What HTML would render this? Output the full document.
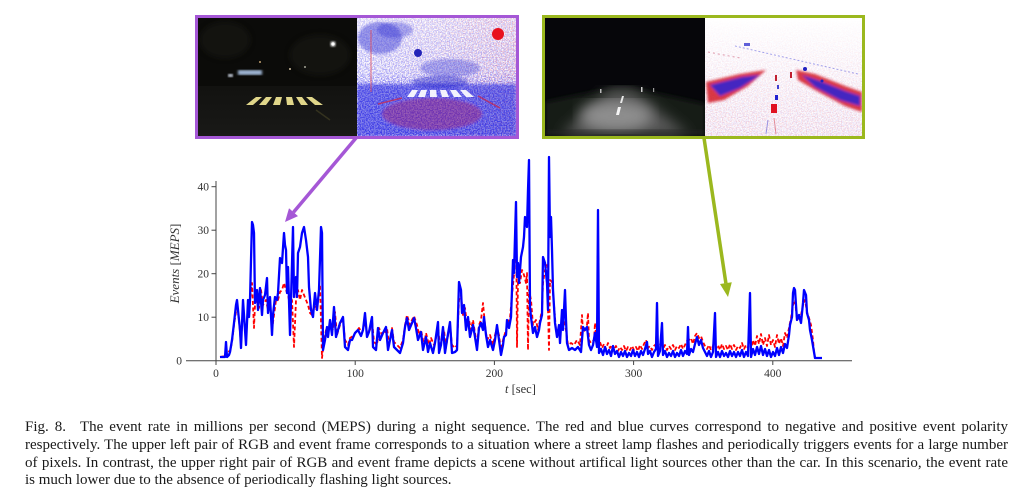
<!DOCTYPE html>
<html><head><meta charset="utf-8">
<style>
html,body{margin:0;padding:0;background:#fff;}
body{width:1024px;height:499px;position:relative;overflow:hidden;}
svg{position:absolute;left:0;top:0;}
.cap{position:absolute;left:25px;top:419px;width:983px;font-family:"Liberation Serif",serif;font-size:15px;line-height:17.8px;color:#1a1a1a;}
.cap div{white-space:nowrap;text-align:justify;text-align-last:justify;}
.cap div.last{text-align-last:left;}
</style></head><body>
<svg width="1024" height="499" viewBox="0 0 1024 499" xmlns="http://www.w3.org/2000/svg">
<defs>
  <filter id="bspk" x="0" y="0" width="1" height="1">
    <feTurbulence type="fractalNoise" baseFrequency="0.75" numOctaves="2" seed="4" result="t"/>
    <feColorMatrix in="t" type="matrix" values="0 0 0 0 0.08  0 0 0 0 0.08  0 0 0 0 0.92  4 0 0 0 -1.5" result="b"/>
    <feComposite in="b" in2="SourceGraphic" operator="in"/>
  </filter>
  <filter id="rspk" x="0" y="0" width="1" height="1">
    <feTurbulence type="fractalNoise" baseFrequency="0.8" numOctaves="2" seed="11" result="t"/>
    <feColorMatrix in="t" type="matrix" values="0 0 0 0 0.92  0 0 0 0 0.1  0 0 0 0 0.12  4 0 0 0 -1.7" result="b"/>
    <feComposite in="b" in2="SourceGraphic" operator="in"/>
  </filter>
  <filter id="blur1"><feGaussianBlur stdDeviation="1.2"/></filter>
  <filter id="blur2"><feGaussianBlur stdDeviation="3"/></filter>
  <filter id="blur4"><feGaussianBlur stdDeviation="7"/></filter>
  <clipPath id="cpl"><rect x="198" y="18" width="159" height="118"/></clipPath>
  <clipPath id="cpr"><rect x="357" y="18" width="159" height="118"/></clipPath>
  <clipPath id="cgl"><rect x="545" y="18" width="160" height="118"/></clipPath>
  <clipPath id="cgr"><rect x="705" y="18" width="157" height="118"/></clipPath>
  <linearGradient id="pbd" x1="0" y1="0" x2="0" y2="1">
    <stop offset="0" stop-color="#000" stop-opacity="0.3"/>
    <stop offset="0.45" stop-color="#000" stop-opacity="0.45"/>
    <stop offset="0.62" stop-color="#000" stop-opacity="0.85"/>
    <stop offset="1" stop-color="#000" stop-opacity="1"/>
  </linearGradient>
  <linearGradient id="prd" x1="0" y1="0" x2="1" y2="0">
    <stop offset="0" stop-color="#000" stop-opacity="0.05"/>
    <stop offset="0.5" stop-color="#000" stop-opacity="0.15"/>
    <stop offset="1" stop-color="#000" stop-opacity="0.35"/>
  </linearGradient>
  <linearGradient id="gsp" x1="0" y1="0" x2="0" y2="1">
    <stop offset="0" stop-color="#000" stop-opacity="0.0"/>
    <stop offset="1" stop-color="#000" stop-opacity="0.25"/>
  </linearGradient>
  <linearGradient id="road1" x1="0" y1="0" x2="0" y2="1">
    <stop offset="0" stop-color="#121210"/>
    <stop offset="1" stop-color="#191917"/>
  </linearGradient>
</defs>

<!-- ============ PURPLE BOX ============ -->
<rect x="196.5" y="16.5" width="321" height="121" fill="none" stroke="#a557d6" stroke-width="3"/>
<!-- left RGB -->
<g clip-path="url(#cpl)">
<rect x="198" y="18" width="159" height="118" fill="#0b0b09"/>
<rect x="198" y="86" width="159" height="50" fill="url(#road1)"/>
<g fill="#1c1e14" opacity="0.5" filter="url(#blur2)"><ellipse cx="225" cy="40" rx="25" ry="18"/><ellipse cx="320" cy="55" rx="30" ry="20"/></g>
<rect x="238" y="70" width="24" height="5" fill="#9fb6d4" filter="url(#blur1)"/>
<rect x="228" y="74" width="5" height="3" fill="#d8e0f0" filter="url(#blur1)"/>
<circle cx="333" cy="44" r="2.6" fill="#fff" filter="url(#blur1)"/>
<circle cx="333" cy="44" r="1.6" fill="#fff"/>
<circle cx="260" cy="62" r="1" fill="#c0a070"/>
<circle cx="290" cy="69" r="1" fill="#d0c0a0"/>
<circle cx="305" cy="67" r="0.9" fill="#d0d0c0"/>
<g fill="#e0d68a">
  <polygon points="246,105 253,105 262,97 256,97"/>
  <polygon points="259,105 266,105 272,97 266,97"/>
  <polygon points="273,105 280,105 282,97 276,97"/>
  <polygon points="287,105 294,105 292,97 286,97"/>
  <polygon points="301,105 308,105 302,97 296,97"/>
  <polygon points="315,105 323,105 312,97 306,97"/>
</g>
<line x1="316" y1="110" x2="330" y2="120" stroke="#34321f" stroke-width="1.5"/>
</g>
<!-- right event -->
<g clip-path="url(#cpr)">
<rect x="357" y="18" width="159" height="118" fill="#fff"/>
<rect x="357" y="18" width="159" height="118" fill="url(#pbd)" filter="url(#bspk)"/>
<rect x="357" y="18" width="159" height="118" fill="url(#prd)" filter="url(#rspk)"/>
<g filter="url(#blur1)">
  <ellipse cx="380" cy="38" rx="22" ry="16" fill="#2a2ad0" opacity="0.45"/>
  <ellipse cx="395" cy="30" rx="18" ry="8" fill="#2a2ad0" opacity="0.35"/>
  <ellipse cx="450" cy="68" rx="30" ry="9" fill="#3030d0" opacity="0.35"/>
  <rect x="357" y="84" width="159" height="52" fill="#2828dc" opacity="0.55"/>
  <ellipse cx="432" cy="114" rx="50" ry="16" fill="#b0206a" opacity="0.4"/>
  <ellipse cx="440" cy="82" rx="28" ry="6" fill="#2020c8" opacity="0.45"/>
</g>
<circle cx="498" cy="34" r="6" fill="#e8101e"/>
<circle cx="418" cy="53" r="4" fill="#2424b8"/>
<line x1="371" y1="30" x2="371" y2="92" stroke="#e05060" stroke-width="1.2" opacity="0.7"/>
<g fill="#fff" opacity="0.92">
  <polygon points="407,97 414,97 418,90 412,90"/>
  <polygon points="418,97 425,97 427,90 421,90"/>
  <polygon points="430,97 437,97 436,90 430,90"/>
  <polygon points="442,97 449,97 446,90 440,90"/>
  <polygon points="454,97 462,97 456,90 450,90"/>
  <polygon points="466,97 474,97 466,90 460,90"/>
</g>
<line x1="402" y1="98" x2="378" y2="104" stroke="#d02040" stroke-width="1.5" opacity="0.7"/>
<line x1="478" y1="96" x2="500" y2="108" stroke="#d02040" stroke-width="1.5" opacity="0.7"/>
</g>

<!-- ============ GREEN BOX ============ -->
<rect x="543.5" y="16.5" width="320" height="121" fill="none" stroke="#9bb81e" stroke-width="3"/>
<!-- left RGB -->
<g clip-path="url(#cgl)">
<rect x="545" y="18" width="160" height="118" fill="#06060a"/>
<polygon points="545,102 612,88 632,88 705,104 705,136 545,136" fill="#181a16" filter="url(#blur2)"/>
<polygon points="560,136 610,90 632,90 690,136" fill="#5a5a5a" filter="url(#blur4)"/>
<ellipse cx="616" cy="116" rx="36" ry="15" fill="#8e8e8e" filter="url(#blur4)"/>
<rect x="545" y="130" width="160" height="6" fill="#202020" opacity="0.6" filter="url(#blur2)"/>
<polygon points="622,96 624,96 622,103 620,103" fill="#e8e8e8"/>
<polygon points="618,107 621,107 619,115 616,115" fill="#f4f4f4"/>
<rect x="600" y="89" width="1.5" height="4" fill="#bbb"/>
<rect x="641" y="87" width="1.5" height="5" fill="#ccc"/>
<rect x="653" y="88" width="1.2" height="4" fill="#999"/>
</g>
<!-- right event -->
<g clip-path="url(#cgr)">
<rect x="705" y="18" width="157" height="118" fill="#fff"/>
<rect x="705" y="18" width="157" height="118" fill="url(#gsp)" filter="url(#rspk)"/>
<rect x="705" y="18" width="157" height="118" fill="url(#gsp)" filter="url(#bspk)" opacity="0.5"/>
<g filter="url(#blur1)">
  <polygon points="706,82 740,74 766,70 748,86 724,100 708,103" fill="#d41626" opacity="0.85"/>
  <polygon points="710,85 742,77 760,75 740,88 720,96" fill="#2a22d8" opacity="0.85"/>
  <polygon points="796,70 815,74 845,86 862,92 862,112 845,106 815,90 798,80" fill="#d41626" opacity="0.85"/>
  <polygon points="802,75 820,81 845,91 860,96 860,106 840,100 815,87" fill="#2a22d8" opacity="0.85"/>
</g>
<rect x="771" y="104" width="6" height="9" fill="#e01020"/>
<rect x="775" y="95" width="3" height="5" fill="#2020d0"/>
<rect x="777" y="85" width="2" height="4" fill="#4040d0"/>
<rect x="744" y="43" width="6" height="3" fill="#3a3ad0" opacity="0.8"/>
<line x1="735" y1="46" x2="858" y2="74" stroke="#6a6ae0" stroke-width="1" stroke-dasharray="2,2" opacity="0.6"/>
<line x1="708" y1="52" x2="740" y2="58" stroke="#c04060" stroke-width="1" stroke-dasharray="2,3" opacity="0.5"/>
<rect x="775" y="75" width="2" height="6" fill="#c02030"/>
<rect x="790" y="72" width="2" height="6" fill="#c02030"/>
<circle cx="805" cy="69" r="2" fill="#2020c0"/>
<circle cx="822" cy="81" r="1.5" fill="#2020c0"/>
<line x1="774" y1="118" x2="776" y2="134" stroke="#d03040" stroke-width="1" opacity="0.5"/>
<line x1="768" y1="120" x2="766" y2="134" stroke="#4040d0" stroke-width="1" opacity="0.5"/>
</g>

<!-- ============ ARROWS ============ -->
<line x1="356" y1="138" x2="293.5" y2="212.2" stroke="#a557d6" stroke-width="3.5"/>
<polygon points="285,222 298,216.1 289,208.3" fill="#a557d6"/>
<line x1="704" y1="138" x2="725.9" y2="283.2" stroke="#9bb81e" stroke-width="3.5"/>
<polygon points="728,297 731.8,282.3 720,284" fill="#9bb81e"/>

<!-- ============ AXES ============ -->
<g stroke="#444" stroke-width="1" fill="none">
  <line x1="186" y1="360.7" x2="852" y2="360.7"/>
  <line x1="216" y1="181" x2="216" y2="360.7"/>
  <line x1="211.5" y1="317.2" x2="216" y2="317.2"/>
  <line x1="211.5" y1="273.7" x2="216" y2="273.7"/>
  <line x1="211.5" y1="230.2" x2="216" y2="230.2"/>
  <line x1="211.5" y1="186.7" x2="216" y2="186.7"/>
  <line x1="216" y1="360.7" x2="216" y2="365"/>
  <line x1="355.2" y1="360.7" x2="355.2" y2="365"/>
  <line x1="494.4" y1="360.7" x2="494.4" y2="365"/>
  <line x1="633.6" y1="360.7" x2="633.6" y2="365"/>
  <line x1="772.8" y1="360.7" x2="772.8" y2="365"/>
</g>
<g font-family="Liberation Serif, serif" font-size="11.5" fill="#333">
  <text x="182" y="364.7" text-anchor="end">0</text>
  <text x="209" y="321.2" text-anchor="end">10</text>
  <text x="209" y="277.7" text-anchor="end">20</text>
  <text x="209" y="234.2" text-anchor="end">30</text>
  <text x="209" y="190.7" text-anchor="end">40</text>
  <text x="216" y="377" text-anchor="middle">0</text>
  <text x="355.2" y="377" text-anchor="middle">100</text>
  <text x="494.4" y="377" text-anchor="middle">200</text>
  <text x="633.6" y="377" text-anchor="middle">300</text>
  <text x="772.8" y="377" text-anchor="middle">400</text>
</g>
<text x="0" y="0" transform="translate(179,263.5) rotate(-90)" text-anchor="middle" font-family="Liberation Serif, serif" font-size="13" fill="#333"><tspan font-style="italic">Events</tspan> [<tspan font-style="italic">MEPS</tspan>]</text>
<text x="505" y="393" font-family="Liberation Serif, serif" font-size="12.5" fill="#333"><tspan font-style="italic">t</tspan>  [sec]</text>

<!-- ============ RED SERIES ============ -->
<polyline fill="none" stroke="#ff0000" stroke-width="1.8" stroke-dasharray="4,2.5" stroke-linejoin="round" points="
220,357 225,356 227,350 230,352 232,342 234,325 237,305 239,320 241,345 243,305 246,340 248,305 250,300 252,283 254,328 255,305 257,295 259,308 261,290 263,305 266,300 268,310 270,300 272,330 274,315 276,300 278,300 280,292 282,290 284,283 286,290 288,295 290,305 292,300 294,347 296,300 298,290 300,300 302,290 304,295 306,300 308,305 310,313 312,315 314,305 316,310 318,300 320,285 322,358 324,340 326,330 328,335 330,322 333,330 335,312 337,335 340,325 343,318 345,340 348,345 350,338 353,336 356,332 359,328 362,333 365,322 367,332 370,330 372,320 374,342 377,345 379,328 382,335 385,332 387,328 389,345 392,328 394,342 397,345 400,348 403,340 405,325 407,315 410,325 412,320 414,316 417,325 419,335 421,330 424,345 426,333 429,345 431,338 434,345 436,338 438,325 440,348 442,340 444,330 446,348 448,335 450,325 452,345 455,348 457,345 459,300 461,295 463,315 465,308 467,325 469,320 471,330 473,320 475,333 477,345 479,325 481,320 483,303 485,325 487,340 490,335 493,345 495,335 497,328 499,335 501,350 503,340 506,330 508,322 510,318 512,295 514,275 516,207 517,347 518,280 520,283 522,270 524,275 526,283 527,273 528,350 529,290 531,300 533,325 536,320 538,330 540,320 542,310 543,283 545,270 547,265 548,310 549,350 550,280 552,282 554,305 556,330 558,335 560,333 562,315 564,320 566,330 568,345 571,343 574,345 577,340 580,345 582,315 583,332 585,330 587,325 588,313 589,340 591,343 594,340 595,323 597,345 600,342 602,348 604,344 606,349 608,343 610,348 612,345 614,350 616,346 618,351 620,347 622,350 624,346 626,351 628,347 630,350 632,346 634,350 636,347 638,351 640,345 642,349 644,344 646,340 648,348 650,346 652,350 654,346 656,344 657,320 658,348 660,345 662,335 663,349 665,345 667,350 669,346 671,349 673,345 675,350 677,346 679,348 681,344 683,349 685,345 687,341 689,340 691,338 693,344 695,336 697,333 699,338 701,336 703,342 705,346 707,349 709,345 711,350 713,346 715,335 716,349 718,345 720,350 722,344 724,349 726,346 728,350 730,344 732,349 734,345 736,350 738,346 740,348 742,343 744,349 746,345 748,348 750,335 751,349 753,340 755,346 757,336 759,344 761,334 763,345 765,338 767,346 769,335 771,345 773,340 775,347 777,335 779,344 781,338 783,346 785,333 787,338 789,328 791,318 793,305 795,300 797,320 799,318 801,315 803,305 805,300 807,312 809,318 811,325 813,340 814,352 815,358 822,358"/>

<!-- ============ BLUE SERIES ============ -->
<polyline fill="none" stroke="#0000ff" stroke-width="2.3" stroke-linejoin="round" points="
220,357 225,357 226,342 227,357 229,355 230,352 232,340 234,323 236,305 237,300 238,310 240,330 241,348 243,300 245,330 246,345 248,300 249,317 250,300 251,260 252,222 253,225 254,233 255,303 257,290 258,310 260,288 262,315 263,300 265,295 267,278 268,313 270,297 272,335 273,315 275,297 277,300 278,293 280,258 282,263 284,233 285,245 286,250 287,293 288,267 290,335 291,300 293,227 294,297 296,277 297,297 298,253 300,247 302,233 304,227 306,240 308,257 309,287 311,310 313,317 315,293 317,310 319,290 321,227 322,233 323,350 325,340 327,327 328,337 330,320 332,335 334,307 336,337 338,330 340,323 343,317 345,347 348,350 350,340 352,340 355,333 358,330 361,336 363,330 365,313 367,337 369,332 372,317 373,347 376,350 378,328 380,340 383,333 386,327 388,350 390,340 392,330 394,347 397,350 400,353 403,343 405,327 407,318 409,330 412,323 414,318 416,328 418,340 421,332 423,350 426,337 428,352 430,343 433,353 435,343 438,322 439,353 441,345 443,327 445,353 447,340 450,322 452,353 455,352 457,350 459,282 461,290 462,313 464,305 466,330 468,317 470,337 471,333 473,325 475,337 477,350 479,328 481,323 483,330 484,317 486,335 488,347 490,340 493,350 495,340 497,325 499,340 501,355 503,345 504,337 506,335 507,320 509,328 511,317 512,290 513,260 514,273 516,202 517,277 518,263 519,283 521,257 523,247 524,237 525,217 527,227 528,190 529,160 530,307 531,317 533,333 535,327 537,337 539,330 540,323 542,315 543,257 545,263 547,283 548,310 549,157 550,237 551,217 552,250 553,290 555,323 557,337 559,325 560,343 562,310 563,330 565,290 566,320 567,343 569,350 572,348 575,350 578,347 581,352 583,327 585,330 587,327 589,345 591,350 593,345 595,333 597,347 598,210 599,353 601,349 603,355 605,347 607,354 609,350 611,356 613,346 615,354 617,351 619,357 621,352 623,356 625,351 627,357 629,353 631,356 633,350 635,356 637,352 639,357 641,351 643,355 645,349 647,342 648,354 650,351 652,357 654,352 656,349 657,303 658,356 660,351 662,323 663,355 665,351 667,357 669,353 671,356 673,351 675,357 677,353 679,356 681,350 683,356 685,351 687,354 688,327 689,355 691,349 693,352 695,344 697,337 699,345 701,340 703,348 705,352 707,356 709,351 711,357 713,352 715,313 716,357 718,352 720,357 722,351 724,356 726,353 728,357 730,351 732,356 734,352 736,357 738,352 740,356 742,350 744,357 746,352 748,356 750,293 751,357 753,349 755,355 757,347 759,354 761,346 763,355 765,349 767,356 769,350 771,357 773,352 775,356 777,348 779,355 781,347 783,353 785,344 787,348 789,335 790,325 792,317 793,293 794,288 795,290 797,320 799,315 801,323 803,303 804,290 806,295 807,313 809,320 810,330 812,340 814,352 815,358 822,358"/>
</svg>

<div class="cap">
<div>Fig. 8.<span style="display:inline-block;width:14px"></span>The event rate in millions per second (MEPS) during a night sequence. The red and blue curves correspond to negative and positive event polarity</div>
<div>respectively. The upper left pair of RGB and event frame corresponds to a situation where a street lamp flashes and periodically triggers events for a large number</div>
<div>of pixels. In contrast, the upper right pair of RGB and event frame depicts a scene without artifical light sources other than the car. In this scenario, the event rate</div>
<div class="last">is much lower due to the absence of periodically flashing light sources.</div>
</div>
</body></html>
